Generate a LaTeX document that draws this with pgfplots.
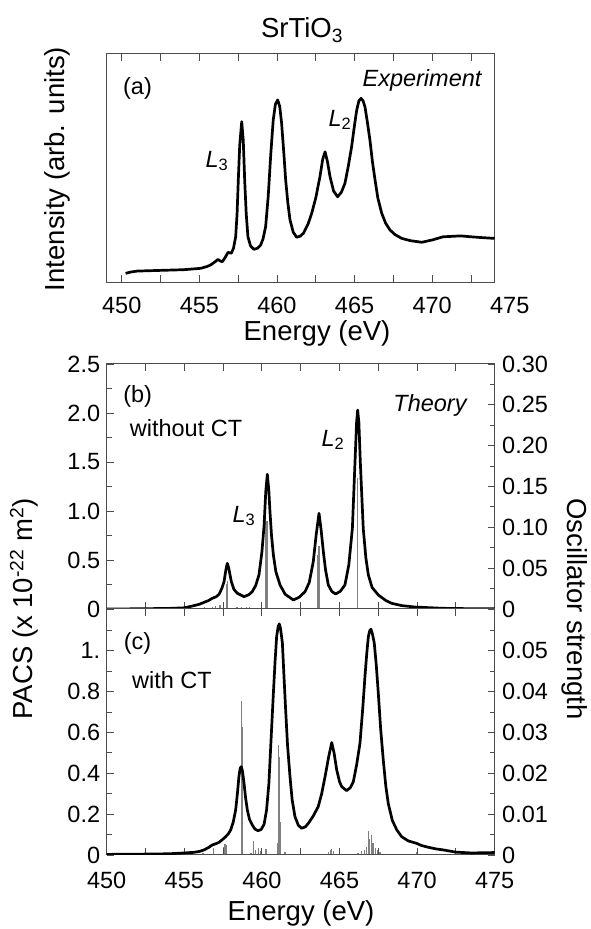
\documentclass[border=0pt]{standalone}
\usepackage{pgfplots}
\pgfplotsset{compat=1.18}
\usepackage{fontspec}
\setmainfont{Liberation Sans}
\definecolor{axgray}{gray}{0.3}
\definecolor{stickgray}{gray}{0.5}
\pgfplotsset{
  base/.style={scale only axis, width=388pt, xmin=450, xmax=475,
    anchor=south west, tick align=inside,
    major tick length=7pt, minor tick length=5pt,
    axis line style={axgray, line width=1pt},
    every tick/.style={axgray, line width=0.9pt},
    tick label style={font=\fontsize{23.5}{28}\selectfont},
    scaled y ticks=false, scaled x ticks=false,
    /pgf/number format/assume math mode=true},
}
\begin{document}
\begin{tikzpicture}[x=1pt,y=1pt]
\useasboundingbox (0,0) rectangle (590,929);
% ---------------- panel (a)
\begin{axis}[base, at={(106.7pt,646.5pt)}, height=228.5pt,
  xmin=449.03, xmax=474.03, ymin=0, ymax=1, ytick=\empty, clip=false,
  xtick={450,452.5,455,457.5,460,462.5,465,467.5,470,472.5},
  xticklabels={450,,455,,460,,465,,470,},
  xticklabel style={yshift=-11.5pt}]
\addplot[black, line width=2.7pt, line join=round] coordinates {
(450.25,0.040)(450.6,0.046)(451.0,0.050)(452.0,0.052)(453,0.054)(454,0.056)(455.09,0.062)(455.5,0.070)(455.73,0.077)(456.0,0.090)(456.2,0.101)(456.35,0.094)(456.48,0.091)(456.65,0.108)(456.85,0.132)(457.06,0.128)(457.2,0.150)(457.34,0.200)(457.43,0.30)(457.51,0.449)(457.6,0.60)(457.73,0.704)(457.83,0.62)(457.92,0.449)(458.02,0.30)(458.13,0.200)(458.3,0.16)(458.52,0.145)(458.75,0.150)(458.95,0.164)(459.1,0.19)(459.27,0.244)(459.44,0.38)(459.6,0.56)(459.76,0.711)(459.9,0.78)(460.05,0.799)(460.18,0.77)(460.3,0.697)(460.45,0.56)(460.56,0.449)(460.7,0.35)(460.84,0.274)(461.05,0.22)(461.27,0.198)(461.5,0.203)(461.7,0.215)(462.0,0.255)(462.24,0.303)(462.5,0.37)(462.77,0.463)(462.95,0.54)(463.1,0.572)(463.25,0.53)(463.42,0.463)(463.65,0.40)(463.91,0.375)(464.15,0.395)(464.38,0.434)(464.6,0.51)(464.81,0.594)(465.0,0.69)(465.14,0.755)(465.28,0.795)(465.42,0.806)(465.55,0.795)(465.67,0.769)(465.83,0.70)(465.99,0.624)(466.15,0.53)(466.32,0.449)(466.5,0.37)(466.75,0.303)(467.0,0.26)(467.28,0.230)(467.6,0.21)(468.04,0.193)(468.6,0.183)(469.33,0.176)(470.0,0.186)(470.7,0.200)(471.3,0.202)(471.82,0.204)(472.5,0.200)(473.3,0.196)(474.03,0.193)};
\node[font=\fontsize{23.5}{28}\selectfont, anchor=north, yshift=-11.5pt, inner sep=0.333em] at (axis cs:475,0) {475};
\end{axis}
% ---------------- panel (b) sticks
\begin{axis}[base, at={(106.7pt,320pt)}, height=245pt,
  ymin=0, ymax=0.30, axis x line=none, axis y line*=right,
  ytick={0,0.05,0.10,0.15,0.20,0.25,0.30}, minor y tick num=1,
  yticklabels={0,0.05,0.10,0.15,0.20,0.25,0.30},
  yticklabel style={xshift=4pt}]
\addplot[ycomb, stickgray, line width=1.3pt, mark=none] coordinates {
(456.3,0.002)(456.8,0.003)(457.0,0.004)(457.3,0.005)(457.72,0.030)(457.8,0.034)(458.4,0.003)(458.7,0.003)(459.0,0.002)(459.2,0.002)(460.25,0.112)(460.33,0.108)(463.6,0.066)(463.68,0.077)(466.17,0.160)};
\end{axis}
% ---------------- panel (b) curve
\begin{axis}[base, at={(106.7pt,320pt)}, height=245pt,
  ymin=0, ymax=2.5, ytick pos=left,
  ytick={0,0.5,1.0,1.5,2.0,2.5}, minor y tick num=1,
  yticklabels={0,0.5,1.0,1.5,2.0,2.5},
  yticklabel style={xshift=-3pt},
  xtick={450,452.5,455,457.5,460,462.5,465,467.5,470,472.5,475},
  xticklabels={}]
\addplot[black, line width=2.7pt, line join=round] coordinates {
(450,0)(452,0.002)(454,0.006)(455,0.012)(455.62,0.034)(456.0,0.05)(456.27,0.068)(456.55,0.085)(456.8,0.109)(457.05,0.125)(457.24,0.15)(457.42,0.21)(457.56,0.279)(457.68,0.40)(457.77,0.466)(457.86,0.42)(458.03,0.279)(458.2,0.20)(458.42,0.160)(458.85,0.126)(459.15,0.145)(459.38,0.177)(459.6,0.24)(459.81,0.347)(460.0,0.58)(460.14,0.85)(460.25,1.2)(460.35,1.375)(460.45,1.2)(460.52,0.993)(460.62,0.75)(460.74,0.551)(460.9,0.38)(461.17,0.245)(461.5,0.15)(462.03,0.092)(462.4,0.12)(462.78,0.177)(463.05,0.27)(463.31,0.483)(463.5,0.76)(463.68,0.977)(463.82,0.80)(463.96,0.585)(464.1,0.40)(464.28,0.245)(464.5,0.18)(464.75,0.153)(465.05,0.18)(465.35,0.245)(465.6,0.45)(465.83,0.823)(466.0,1.503)(466.1,1.9)(466.17,2.03)(466.25,1.9)(466.34,1.503)(466.53,0.823)(466.7,0.52)(466.86,0.347)(467.1,0.22)(467.5,0.143)(468.0,0.085)(468.36,0.058)(469.0,0.035)(469.86,0.02)(471.67,0.007)(473,0.004)(475,0.002)};
\end{axis}
% ---------------- panel (c) sticks
\begin{axis}[base, at={(106.7pt,74pt)}, height=246pt,
  ymin=0, ymax=0.06025, axis x line=none, axis y line*=right,
  ytick={0,0.01,0.02,0.03,0.04,0.05}, minor y tick num=1,
  yticklabels={0,0.01,0.02,0.03,0.04,0.05},
  extra y ticks={0.055}, extra y tick labels={},
  extra y tick style={major tick length=5pt},
  yticklabel style={xshift=4pt}]
\addplot[ycomb, stickgray, line width=1.3pt, mark=none] coordinates {
(456.2,0.0004)(456.87,0.0017)(457.55,0.0020)(457.62,0.0027)(457.68,0.0025)(458.68,0.0376)(458.72,0.0313)(459.3,0.0005)(459.45,0.0035)(459.6,0.0012)(459.77,0.0017)(459.9,0.0010)(459.99,0.0015)(460.26,0.0015)(461.02,0.0030)(461.08,0.0270)(461.14,0.0240)(461.2,0.0080)(461.49,0.0008)(462.5,0.0005)(464.3,0.0008)(464.4,0.0013)(464.5,0.0014)(464.6,0.0010)(464.99,0.0007)(466.2,0.0006)(466.4,0.0010)(466.6,0.0013)(466.75,0.0020)(466.86,0.0059)(466.95,0.0040)(467.07,0.0049)(467.15,0.0030)(467.3,0.0017)(467.45,0.0012)(467.6,0.0008)(469.97,0.0007)(472.55,0.0003)};
\end{axis}
% ---------------- panel (c) curve
\begin{axis}[base, at={(106.7pt,74pt)}, height=246pt,
  ymin=0, ymax=1.205, ytick pos=left,
  ytick={0,0.2,0.4,0.6,0.8,1.0}, minor y tick num=1,
  yticklabels={0,0.2,0.4,0.6,0.8,1.},
  extra y ticks={1.1}, extra y tick labels={},
  extra y tick style={major tick length=5pt},
  yticklabel style={xshift=-3pt},
  xtick={450,452.5,455,457.5,460,462.5,465,467.5,470,472.5,475},
  xticklabels={450,,455,,460,,465,,470,,475},
  xticklabel style={yshift=-13.5pt}]
\addplot[black, line width=2.7pt, line join=round] coordinates {
(450,0.003)(452,0.004)(454,0.006)(455.0,0.01)(455.62,0.013)(456.0,0.018)(456.27,0.025)(456.55,0.036)(456.8,0.049)(457.05,0.056)(457.24,0.062)(457.45,0.075)(457.67,0.090)(457.85,0.105)(457.99,0.123)(458.15,0.16)(458.31,0.221)(458.42,0.30)(458.52,0.384)(458.6,0.425)(458.67,0.433)(458.75,0.41)(458.85,0.351)(458.95,0.28)(459.06,0.221)(459.2,0.175)(459.38,0.147)(459.55,0.127)(459.75,0.119)(459.95,0.125)(460.14,0.150)(460.3,0.22)(460.45,0.35)(460.6,0.58)(460.74,0.793)(460.85,0.95)(460.95,1.07)(461.05,1.12)(461.12,1.132)(461.2,1.11)(461.32,1.038)(461.42,0.88)(461.53,0.711)(461.65,0.54)(461.81,0.384)(461.95,0.27)(462.13,0.188)(462.35,0.145)(462.56,0.131)(462.8,0.138)(462.99,0.155)(463.3,0.19)(463.63,0.237)(463.85,0.30)(464.07,0.384)(464.3,0.48)(464.5,0.551)(464.65,0.50)(464.82,0.417)(465.0,0.36)(465.14,0.335)(465.46,0.315)(465.7,0.33)(465.89,0.359)(466.1,0.44)(466.32,0.548)(466.5,0.72)(466.64,0.874)(466.76,0.99)(466.86,1.07)(466.95,1.10)(467.03,1.106)(467.13,1.08)(467.24,1.038)(467.37,0.93)(467.5,0.793)(467.65,0.62)(467.82,0.466)(467.98,0.34)(468.14,0.253)(468.4,0.17)(468.69,0.123)(469.0,0.09)(469.43,0.069)(469.97,0.057)(470.3,0.046)(470.72,0.038)(471.2,0.03)(471.67,0.025)(472.5,0.014)(473.5,0.01)(475,0.012)};
\end{axis}
% ---------------- texts
\begin{scope}[every node/.style={font=\fontsize{23.5}{28}\selectfont, inner sep=0pt}]
\node at (137.5,841) {(a)};
\node at (422,849) {\itshape Experiment};
\node at (217,768) {\textit{L}\textsubscript{3}};
\node at (340,809) {\textit{L}\textsubscript{2}};
\node at (137.7,533) {(b)};
\node at (186,501) {without CT};
\node at (430,524) {\itshape Theory};
\node at (244,413) {\textit{L}\textsubscript{3}};
\node at (333,489) {\textit{L}\textsubscript{2}};
\node at (137.5,286) {(c)};
\node at (172,249) {with CT};
\end{scope}
\begin{scope}[every node/.style={font=\fontsize{27.5}{32}\selectfont, inner sep=0pt}]
\node at (302,899) {SrTiO\textsubscript{3}};
\node[rotate=90] at (57,760) {Intensity (arb. units)};
\node at (317,596) {Energy (eV)};
\node at (301,16) {Energy (eV)};
\node[rotate=90] at (24,320) {PACS (x 10\textsuperscript{-22} m\textsuperscript{2})};
\node[rotate=-90] at (575,320) {Oscillator strength};
\end{scope}
\end{tikzpicture}
\end{document}
